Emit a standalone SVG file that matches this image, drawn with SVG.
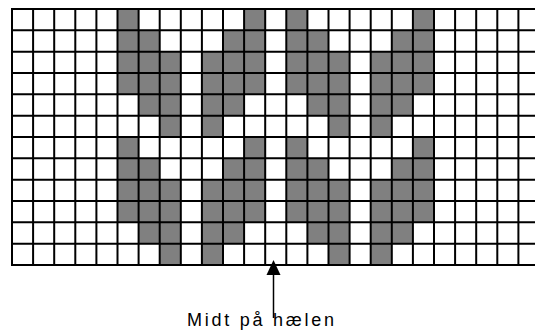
<svg xmlns="http://www.w3.org/2000/svg" xmlns:xlink="http://www.w3.org/1999/xlink" width="535" height="330" viewBox="0 0 535 330">
<style>
.cell{fill:#808080}
.grid{fill:none;stroke:#000;stroke-width:2;stroke-linecap:square}
.lbl{font-family:"Liberation Sans",Arial,sans-serif;font-size:18px;fill:#000}
</style>
<defs>
<g id="v">
<rect class="cell" x="0" y="0" width="21.1" height="85.33"/>
<rect class="cell" x="21.1" y="21.33" width="21.1" height="85.33"/>
<rect class="cell" x="42.2" y="42.67" width="21.1" height="85.33"/>
<rect class="cell" x="84.4" y="42.67" width="21.1" height="85.33"/>
<rect class="cell" x="105.5" y="21.33" width="21.1" height="85.33"/>
<rect class="cell" x="126.6" y="0" width="21.1" height="85.33"/>
</g>
</defs>
<rect width="535" height="330" fill="#fff"/>
<g id="pattern">
<use xlink:href="#v" href="#v" transform="translate(117.5,9)"/>
<use xlink:href="#v" href="#v" transform="translate(286.3,9)"/>
<use xlink:href="#v" href="#v" transform="translate(117.5,137)"/>
<use xlink:href="#v" href="#v" transform="translate(286.3,137)"/>
</g>
<g id="grid">
<path class="grid" d="M12,9V265M33.1,9V265M54.2,9V265M75.3,9V265M96.4,9V265M117.5,9V265M138.6,9V265M159.7,9V265M180.8,9V265M201.9,9V265M223,9V265M244.1,9V265M265.2,9V265M286.3,9V265M307.4,9V265M328.5,9V265M349.6,9V265M370.7,9V265M391.8,9V265M412.9,9V265M434,9V265M455.1,9V265M476.2,9V265M497.3,9V265M518.4,9V265M539.5,9V265"/>
<path class="grid" d="M12,9H545M12,30.33H545M12,51.67H545M12,73H545M12,94.33H545M12,115.67H545M12,137H545M12,158.33H545M12,179.67H545M12,201H545M12,222.33H545M12,243.67H545M12,265H545"/>
</g>
<g id="connectors">
<line x1="273.5" y1="274" x2="273.5" y2="318" stroke="#000" stroke-width="1.5"/>
<polygon points="273.5,260 266.5,275 280.5,275" fill="#000"/>
</g>
<g id="label">
<text class="lbl" x="187" y="326" textLength="147" lengthAdjust="spacing">Midt på hælen</text>
</g>
</svg>
